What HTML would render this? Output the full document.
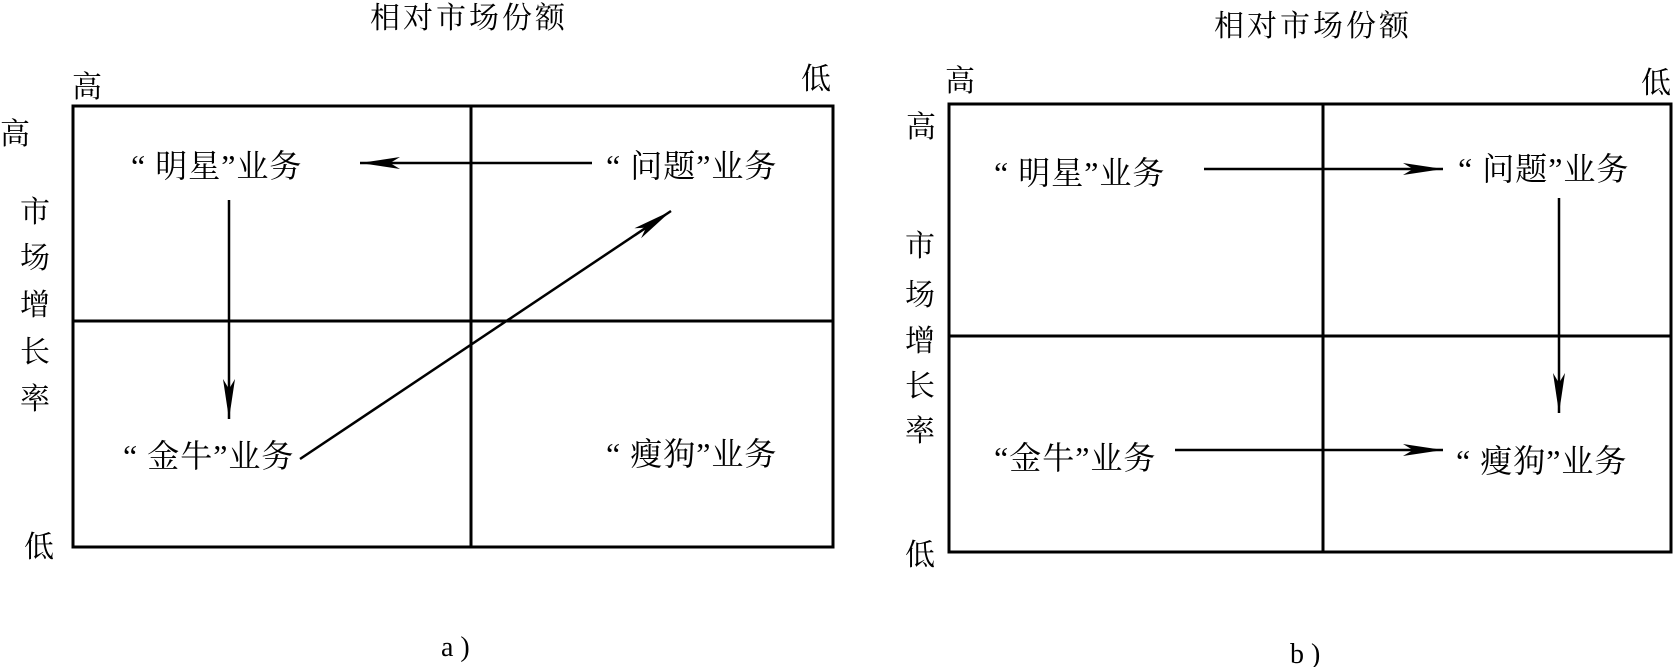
<!DOCTYPE html>
<html><head><meta charset="utf-8"><style>
html,body{margin:0;padding:0;background:#fff;}
svg{display:block;}
text{font-family:"Liberation Serif","Noto Serif CJK SC",serif;fill:#000;}
</style></head><body>
<svg width="1673" height="667" viewBox="0 0 1673 667" xmlns="http://www.w3.org/2000/svg">
<defs>
<marker id="ah" markerWidth="40" markerHeight="14" refX="40" refY="7" orient="auto" markerUnits="userSpaceOnUse">
<path d="M0,1 L40,7 L0,13 L10,7 Z" fill="#000"/>
</marker>
</defs>
<g stroke="#000" stroke-width="3" fill="none">
<rect x="73" y="106" width="760" height="441"/>
<line x1="471" y1="106" x2="471" y2="547"/>
<line x1="73" y1="321" x2="833" y2="321"/>
<rect x="949" y="104" width="722" height="448"/>
<line x1="1323" y1="104" x2="1323" y2="552"/>
<line x1="949" y1="336" x2="1671" y2="336"/>
</g>
<g stroke="#000" stroke-width="2.5">
<line x1="592" y1="163" x2="360" y2="163" marker-end="url(#ah)"/>
<line x1="229" y1="200" x2="229" y2="419" marker-end="url(#ah)"/>
<line x1="300" y1="459" x2="671" y2="211" marker-end="url(#ah)"/>
<line x1="1204" y1="169" x2="1443" y2="169" marker-end="url(#ah)"/>
<line x1="1559" y1="198" x2="1559" y2="413" marker-end="url(#ah)"/>
<line x1="1175" y1="450" x2="1443" y2="450" marker-end="url(#ah)"/>
</g>
<g font-size="30">
<text x="469" y="28" text-anchor="middle" letter-spacing="3">相对市场份额</text>
<text x="72" y="97">高</text>
<text x="801" y="89">低</text>
<text x="0" y="144">高</text>
<text x="20" y="222">市</text>
<text x="20" y="268">场</text>
<text x="20" y="315">增</text>
<text x="20" y="362">长</text>
<text x="20" y="409">率</text>
<text x="24" y="557">低</text>

<text x="1313" y="36" text-anchor="middle" letter-spacing="3">相对市场份额</text>
<text x="945" y="91">高</text>
<text x="1641" y="93">低</text>
<text x="906" y="137">高</text>
<text x="905" y="256">市</text>
<text x="905" y="305">场</text>
<text x="905" y="351">增</text>
<text x="905" y="396">长</text>
<text x="905" y="441">率</text>
<text x="905" y="565">低</text>
</g>
<g font-size="32" letter-spacing="1">
<text x="131" y="177">“ 明星”业务</text>
<text x="606" y="177">“ 问题”业务</text>
<text x="123" y="467">“ 金牛”业务</text>
<text x="606" y="465">“ 瘦狗”业务</text>

<text x="994" y="184">“ 明星”业务</text>
<text x="1458" y="180">“ 问题”业务</text>
<text x="994" y="469">“金牛”业务</text>
<text x="1456" y="472">“ 瘦狗”业务</text>
</g>
<text x="441" y="656" font-size="28">a )</text>
<text x="1290" y="663" font-size="28">b )</text>
</svg>
</body></html>
